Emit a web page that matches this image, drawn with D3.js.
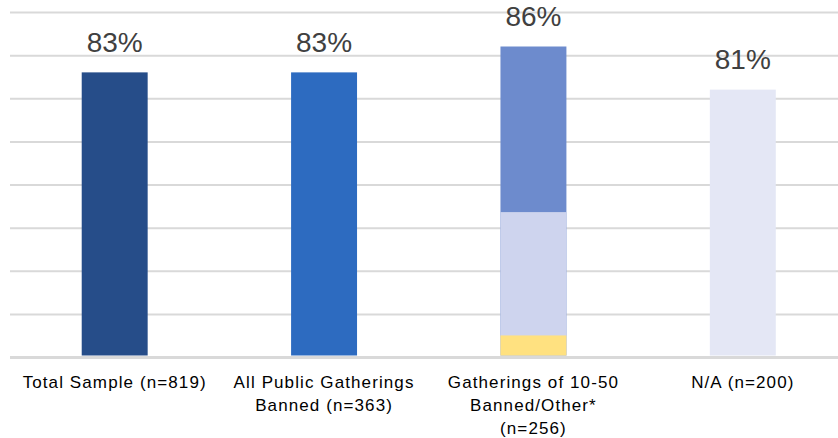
<!DOCTYPE html>
<html>
<head>
<meta charset="utf-8">
<script src="https://cdn.jsdelivr.net/npm/d3@7"></script>
<style>
  html, body { margin: 0; padding: 0; background: #ffffff; }
  svg { display: block; }
</style>
</head>
<body>
<div id="chart"></div>
<script>
// Category labels (multi-line labels split on "\n")
const categories = [
  "Total Sample (n=819)",
  "All Public Gatherings\nBanned (n=363)",
  "Gatherings of 10-50\nBanned/Other*\n(n=256)",
  "N/A (n=200)"
];

// Share of respondents per group (%)
const percentages = [83, 83, 86, 81];

// Nested tiers drawn inside the third group's column (%)
const splitGroupIndex = 2;
const splitLevels = [66.8, 52.5];

// Value axis: floor, ceiling and gridline step (%)
const axisMin = 50;
const axisMax = 90;
const gridStep = 5;

const barColors = ["#264d89", "#2d6bc0", "#6d8bcd", "#e4e7f5"];
const splitColors = ["#ced4ee", "#ffe180"];

const width = 838, height = 438;
const plotLeft = 10, plotRight = 847.5, plotTop = 12, plotBottom = 357;

const svg = d3.select("#chart").append("svg")
  .attr("width", width)
  .attr("height", height)
  .attr("viewBox", [0, 0, width, height]);

const x = d3.scaleBand()
  .domain(categories)
  .range([plotLeft, plotRight])
  .paddingInner(0.685)
  .paddingOuter(0.3425);

const y = d3.scaleLinear()
  .domain([axisMin, axisMax])
  .range([plotBottom, plotTop]);

const gridTicks = d3.range(axisMin, axisMax + gridStep / 2, gridStep);

// Horizontal gridlines
const grid = svg.append("g")
  .attr("transform", `translate(${plotLeft},0)`)
  .call(d3.axisLeft(y).tickValues(gridTicks).tickSize(-(plotRight - plotLeft)).tickFormat(""));
grid.select(".domain").remove();
grid.selectAll(".tick line")
  .attr("stroke", "#d9d9d9")
  .attr("stroke-width", d => d === axisMin ? 3 : 2);

// Columns
svg.append("g")
  .selectAll("rect")
  .data(categories)
  .join("rect")
  .attr("x", d => x(d))
  .attr("width", x.bandwidth())
  .attr("y", (d, i) => y(percentages[i]))
  .attr("height", (d, i) => y(axisMin) - y(percentages[i]) - 1.5)
  .attr("fill", (d, i) => barColors[i]);

// Inner tiers of the split column
svg.append("g")
  .selectAll("rect")
  .data(splitLevels)
  .join("rect")
  .attr("x", x(categories[splitGroupIndex]))
  .attr("width", x.bandwidth())
  .attr("y", d => y(d))
  .attr("height", d => y(axisMin) - y(d) - 1.5)
  .attr("fill", (d, i) => splitColors[i]);

// Value labels
svg.append("g")
  .selectAll("text")
  .data(categories)
  .join("text")
  .attr("x", d => x(d) + x.bandwidth() / 2)
  .attr("y", (d, i) => y(percentages[i]) - 20.5)
  .attr("text-anchor", "middle")
  .attr("font-family", "'Liberation Sans', Arial, sans-serif")
  .attr("font-size", 28)
  .attr("fill", "#404040")
  .text((d, i) => percentages[i] + "%");

// Category labels
const catLabels = svg.append("g")
  .selectAll("text")
  .data(categories)
  .join("text")
  .attr("x", d => x(d) + x.bandwidth() / 2)
  .attr("y", 388)
  .attr("text-anchor", "middle")
  .attr("font-family", "'Liberation Sans', Arial, sans-serif")
  .attr("font-size", 17)
  .attr("letter-spacing", 1.1)
  .attr("fill", "#000000");

catLabels.selectAll("tspan")
  .data(d => d.split("\n"))
  .join("tspan")
  .attr("x", function() { return this.parentNode.getAttribute("x"); })
  .attr("dy", (d, i) => i === 0 ? 0 : 23)
  .text(d => d);
</script>
</body>
</html>
